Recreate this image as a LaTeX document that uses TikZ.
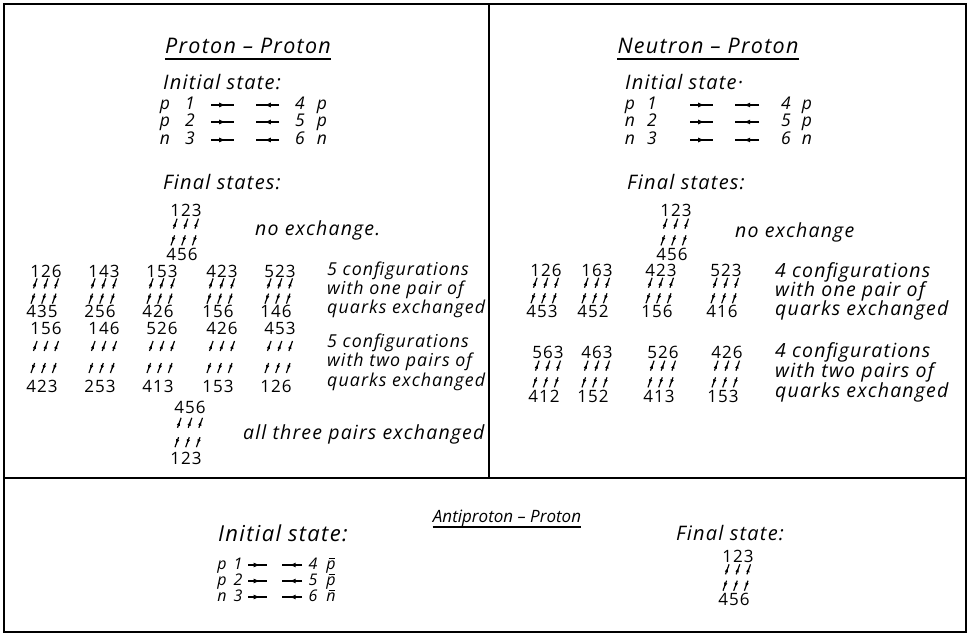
\documentclass[tikz,border=0pt]{standalone}
\usepackage{fontspec}
\setmainfont{Open Sans}
\newfontfamily\wfont[LetterSpace=6]{Open Sans}
\usetikzlibrary{arrows.meta,decorations.markings}
\tikzset{
  ttl/.style={font=\wfont\fontsize{21.5}{23}\selectfont\itshape, inner sep=0pt, anchor=base},
  hdr/.style={font=\wfont\fontsize{20}{22}\selectfont\itshape, inner sep=0pt, anchor=west},
  txt/.style={font=\wfont\fontsize{19.5}{21}\selectfont\itshape, inner sep=0pt, anchor=west},
  txtL/.style={font=\wfont\fontsize{17.8}{19}\selectfont\itshape, inner sep=0pt, anchor=west},
  sym/.style={font=\fontsize{17.5}{18}\selectfont\itshape, inner sep=0pt, text height=10pt, text depth=1pt},
  bsym/.style={font=\fontsize{16}{17}\selectfont\itshape, inner sep=0pt, text height=9pt, text depth=0.5pt},
  num/.style={font=\fontsize{17}{18}\selectfont, inner sep=0pt},
  frame/.style={line width=1.6pt},
  uline/.style={line width=1.1pt},
  midarr/.style={line width=1.2pt, postaction={decorate},
    decoration={markings, mark=at position 0.64 with {\arrow{Latex[length=6.5pt,width=5pt]}}}},
  qarr/.style={line width=1.2pt, postaction={decorate},
    decoration={markings, mark=at position 0.66 with {\arrow{Latex[length=4.5pt,width=3.6pt]}}}}
}
\def\dgs#1#2#3{#1\kern1pt#2\kern1pt#3}
\newcommand{\barred}[1]{\makebox[0pt][l]{\raisebox{0.66em}{\kern0.14em\rule{0.42em}{0.06em}}}#1}
% name, x, y, top digits, bottom digits, dy
\newcommand{\qcfg}[6]{%
  \node[num] (#1t) at (#2,#3) {\dgs#4};
  \node[num] (#1b) at ({#2-4},{#3+#6}) {\dgs#5};
  \foreach \k in {-1,0,1}{
    \draw[qarr] ({#2+10.7*\k-1.8},{#3+0.31*#6+5}) -- ({#2+10.7*\k+1.8},{#3+0.31*#6-5});
    \draw[qarr] ({#2+10.7*\k-2.5+1.8},{#3+0.69*#6-5}) -- ({#2+10.7*\k-2.5-1.8},{#3+0.69*#6+5});
  }%
}
\begin{document}
\begin{tikzpicture}[x=1pt,y=-1pt]
\useasboundingbox (0,0) rectangle (970,636);
% frame
\coordinate (fTL) at (4,4); \coordinate (fBR) at (966,632);
\coordinate (vT) at (489,4); \coordinate (vB) at (489,478);
\coordinate (hL) at (4,478); \coordinate (hR) at (966,478);
\draw[frame] (fTL) rectangle (fBR);
\draw[frame] (vT) -- (vB);
\draw[frame] (hL) -- (hR);

% ================= Proton - Proton =================
\node[ttl] (ppT) at (248,54) {Proton – Proton};
\draw[uline] ([yshift=-5pt]ppT.base west) -- ([yshift=-5pt]ppT.base east);
\node[hdr] (ppI) at (163,82) {Initial state:};
\foreach \y/\a/\b/\c/\d [count=\i] in {105/p/1/4/p, 122/p/2/5/p, 140/n/3/6/n}{
  \node[sym] (ppa\i) at (165,\y) {\a};
  \node[sym] (ppb\i) at (190,\y) {\b};
  \coordinate (ppl\i) at (211,\y); \coordinate (ppm\i) at (234,\y);
  \coordinate (ppn\i) at (256,\y); \coordinate (ppr\i) at (279,\y);
  \draw[midarr] (ppl\i) -- (ppm\i);
  \draw[midarr] (ppr\i) -- (ppn\i);
  \node[sym] (ppc\i) at (300,\y) {\c};
  \node[sym] (ppd\i) at (322,\y) {\d};
}
\node[hdr] (ppF) at (163,182) {Final states:};
\qcfg{pp0}{186}{210}{123}{456}{44}
\node[txt] (ppN) at (255,230) {no exchange.};
\qcfg{pp11}{46}{271}{126}{435}{40}
\qcfg{pp12}{104}{271}{143}{256}{40}
\qcfg{pp13}{162}{271}{153}{426}{40}
\qcfg{pp14}{222}{271}{423}{156}{40}
\qcfg{pp15}{280}{271}{523}{146}{40}
\node[txtL] (ppA1) at (327,271) {5 configurations};
\node[txtL] (ppA2) at (327,290) {with one pair of};
\node[txtL] (ppA3) at (327,309) {quarks exchanged};
\qcfg{pp21}{46}{328}{156}{423}{58}
\qcfg{pp22}{104}{328}{146}{253}{58}
\qcfg{pp23}{162}{328}{526}{413}{58}
\qcfg{pp24}{222}{328}{426}{153}{58}
\qcfg{pp25}{280}{328}{453}{126}{58}
\node[txtL] (ppB1) at (327,343) {5 configurations};
\node[txtL] (ppB2) at (327,362) {with two pairs of};
\node[txtL] (ppB3) at (327,382) {quarks exchanged};
\qcfg{pp3}{190}{407}{456}{123}{51}
\node[txt] (ppC) at (243,434) {all three pairs exchanged};

% ================= Neutron - Proton =================
\node[ttl] (npT) at (708,54) {Neutron – Proton};
\draw[uline] ([yshift=-5pt]npT.base west) -- ([yshift=-5pt]npT.base east);
\node[hdr] (npI) at (625,82) {Initial state·};
\foreach \y/\a/\b/\c/\d [count=\i] in {105/p/1/4/p, 122/n/2/5/p, 140/n/3/6/n}{
  \node[sym] (npa\i) at (630,\y) {\a};
  \node[sym] (npb\i) at (652,\y) {\b};
  \coordinate (npl\i) at (690,\y); \coordinate (npm\i) at (713,\y);
  \coordinate (npn\i) at (735,\y); \coordinate (npr\i) at (759,\y);
  \draw[midarr] (npl\i) -- (npm\i);
  \draw[midarr] (npr\i) -- (npn\i);
  \node[sym] (npc\i) at (786,\y) {\c};
  \node[sym] (npd\i) at (807,\y) {\d};
}
\node[hdr] (npF) at (627,182) {Final states:};
\qcfg{np0}{676}{210}{123}{456}{44}
\node[txt] (npN) at (735,232) {no exchange};
\qcfg{np11}{546}{270}{126}{453}{41}
\qcfg{np12}{597}{270}{163}{452}{41}
\qcfg{np13}{661}{270}{423}{156}{41}
\qcfg{np14}{726}{270}{523}{416}{41}
\node[txt] (npA1) at (775,272) {4 configurations};
\node[txt] (npA2) at (775,291) {with one pair of};
\node[txt] (npA3) at (775,310) {quarks exchanged};
\qcfg{np21}{548}{352}{563}{412}{44}
\qcfg{np22}{597}{352}{463}{152}{44}
\qcfg{np23}{663}{352}{526}{413}{44}
\qcfg{np24}{727}{352}{426}{153}{44}
\node[txt] (npB1) at (775,352) {4 configurations};
\node[txt] (npB2) at (775,372) {with two pairs of};
\node[txt] (npB3) at (775,392) {quarks exchanged};

% ================= Antiproton - Proton =================
\node[ttl, font=\fontsize{17}{19}\selectfont\itshape] (apT) at (507,522) {Antiproton – Proton};
\draw[uline] ([yshift=-5pt]apT.base west) -- ([yshift=-5pt]apT.base east);
\node[hdr, font=\wfont\fontsize{22}{24}\selectfont\itshape] (apI) at (218,533) {Initial state:};
\foreach \y/\a/\b/\c/\d [count=\i] in {565/p/1/4/\barred{p}, 581/p/2/5/\barred{p}, 597/n/3/6/\barred{n}}{
  \node[bsym] (apa\i) at (222,\y) {\a};
  \node[bsym] (apb\i) at (238,\y) {\b};
  \coordinate (apl\i) at (248,\y); \coordinate (apm\i) at (267,\y);
  \coordinate (apn\i) at (282,\y); \coordinate (apr\i) at (302,\y);
  \draw[midarr] (apl\i) -- (apm\i);
  \draw[midarr] (apr\i) -- (apn\i);
  \node[bsym] (apc\i) at (313,\y) {\c};
  \node[bsym] (apd\i) at (331,\y) {\d};
}
\node[hdr, font=\wfont\fontsize{20}{22}\selectfont\itshape] (apF) at (676,533) {Final state:};
\qcfg{ap0}{738}{556}{123}{456}{43}
\end{tikzpicture}
\end{document}
